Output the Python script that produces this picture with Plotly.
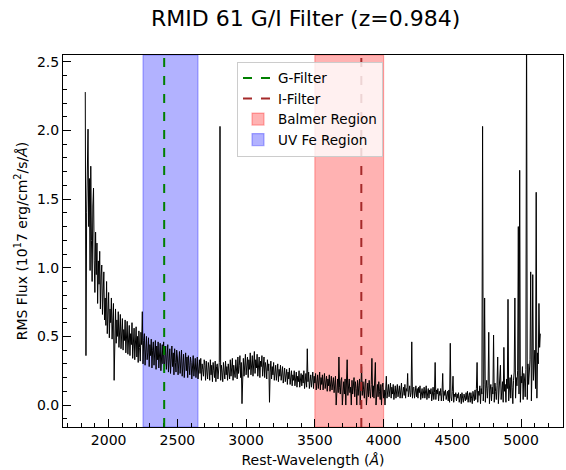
import plotly.graph_objects as go

# ---- data ----
WAVE_START = 1830   # Angstrom
WAVE_STEP = 5       # Angstrom
FLUX_ROWS = [
    [2.28, 0.36, 1.40, 1.95, 2.01, 1.30, 1.65, 0.98, 1.74, 1.20, 0.90, 1.45, 1.58, 1.05, 0.82, 1.26, 0.95, 1.18, 0.74, 1.05],
    [0.88, 1.12, 0.70, 0.94, 1.02, 0.66, 0.85, 0.97, 0.62, 0.78, 0.58, 0.90, 0.52, 0.75, 0.82, 0.49, 0.70, 0.60, 0.78, 0.48],
    [0.66, 0.74, 0.18, 0.55, 0.70, 0.45, 0.62, 0.50, 0.68, 0.42, 0.58, 0.66, 0.41, 0.52, 0.63, 0.40, 0.55, 0.47, 0.62, 0.38],
    [0.50, 0.61, 0.37, 0.46, 0.58, 0.36, 0.52, 0.44, 0.60, 0.34, 0.48, 0.56, 0.33, 0.45, 0.57, 0.35, 0.50, 0.31, 0.54, 0.42],
    [0.32, 0.53, 0.44, 0.68, 0.30, 0.47, 0.52, 0.29, 0.42, 0.50, 0.33, 0.38, 0.49, 0.28, 0.44, 0.36, 0.48, 0.27, 0.40, 0.46],
    [0.29, 0.37, 0.47, 0.26, 0.43, 0.33, 0.46, 0.27, 0.39, 0.45, 0.25, 0.35, 0.44, 0.30, 0.46, 0.25, 0.38, 0.43, 0.26, 0.34],
    [0.44, 0.24, 0.37, 0.41, 0.23, 0.33, 0.43, 0.28, 0.38, 0.22, 0.41, 0.31, 0.24, 0.40, 0.35, 0.22, 0.37, 0.39, 0.23, 0.32],
    [0.40, 0.21, 0.34, 0.37, 0.20, 0.30, 0.38, 0.25, 0.35, 0.20, 0.36, 0.29, 0.22, 0.35, 0.31, 0.19, 0.33, 0.36, 0.21, 0.28],
    [0.34, 0.20, 0.31, 0.35, 0.19, 0.27, 0.33, 0.23, 0.34, 0.18, 0.30, 0.26, 0.21, 0.33, 0.29, 0.18, 0.32, 0.24, 0.19, 0.31],
    [0.27, 0.18, 0.33, 0.22, 0.29, 0.17, 0.31, 0.25, 0.20, 0.32, 0.17, 0.28, 0.30, 0.19, 0.26, 0.31, 2.03, 0.18, 0.29, 0.24],
    [0.17, 0.31, 0.26, 0.19, 0.32, 0.22, 0.28, 0.18, 0.30, 0.25, 0.19, 0.33, 0.21, 0.27, 0.34, 0.18, 0.29, 0.24, 0.20, 0.33],
    [0.26, 0.19, 0.35, 0.23, 0.29, 0.36, 0.20, 0.31, 0.01, 0.27, 0.34, 0.21, 0.30, 0.37, 0.22, 0.28, 0.35, 0.20, 0.33, 0.26],
    [0.38, 0.22, 0.31, 0.36, 0.21, 0.29, 0.39, 0.23, 0.33, 0.27, 0.37, 0.21, 0.30, 0.35, 0.20, 0.32, 0.28, 0.36, 0.21, 0.29],
    [0.35, 0.20, 0.31, 0.27, 0.19, 0.33, 0.25, 0.30, 0.02, 0.24, 0.32, 0.19, 0.28, 0.22, 0.31, 0.18, 0.26, 0.29, 0.18, 0.24],
    [0.30, 0.17, 0.26, 0.21, 0.29, 0.18, 0.25, 0.28, 0.16, 0.23, 0.27, 0.17, 0.22, 0.26, 0.15, 0.24, 0.19, 0.27, 0.15, 0.21],
    [0.25, 0.14, 0.22, 0.18, 0.25, 0.14, 0.20, 0.24, 0.13, 0.21, 0.17, 0.25, 0.13, 0.19, 0.23, 0.14, 0.22, 0.16, 0.25, 0.12],
    [0.20, 0.23, 0.13, 0.41, 0.17, 0.24, 0.12, 0.20, 0.22, 0.13, 0.18, 0.24, 0.12, 0.21, 0.16, 0.23, 0.11, 0.19, 0.22, 0.12],
    [0.17, 0.24, 0.11, 0.20, 0.15, 0.22, 0.11, 0.18, 0.23, 0.12, 0.16, 0.21, 0.10, 0.19, 0.14, 0.22, 0.10, 0.17, 0.21, 0.11],
    [0.15, 0.20, 0.09, 0.18, 0.21, 0.00, 0.14, 0.19, 0.09, 0.35, 0.13, 0.08, 0.18, 0.20, 0.00, 0.12, 0.17, 0.08, 0.19, 0.00],
    [0.14, 0.33, 0.07, 0.16, 0.19, 0.09, 0.13, 0.00, 0.18, 0.08, 0.15, 0.20, 0.06, 0.17, 0.12, 0.00, 0.18, 0.07, 0.14, 0.19],
    [0.00, 0.13, 0.28, 0.07, 0.17, 0.11, 0.05, 0.16, 0.19, 0.00, 0.12, 0.16, 0.06, 0.18, 0.10, 0.05, 0.15, 0.34, 0.06, 0.14],
    [0.05, 0.17, 0.31, 0.00, 0.12, 0.15, 0.06, 0.17, 0.10, 0.04, 0.15, 0.00, 0.13, 0.16, 0.05, 0.11, 0.00, 0.14, 0.21, 0.05],
    [0.12, 0.15, 0.06, 0.10, 0.16, 0.05, 0.13, 0.08, 0.15, 0.04, 0.11, 0.14, 0.05, 0.09, 0.15, 0.06, 0.12, 0.14, 0.05, 0.10],
    [0.16, 0.05, 0.11, 0.13, 0.07, 0.15, 0.05, 0.12, 0.10, 0.23, 0.06, 0.13, 0.14, 0.06, 0.09, 0.46, 0.05, 0.12, 0.13, 0.05],
    [0.10, 0.14, 0.06, 0.12, 0.05, 0.13, 0.09, 0.14, 0.04, 0.11, 0.12, 0.05, 0.08, 0.13, 0.05, 0.10, 0.14, 0.04, 0.09, 0.12],
    [0.05, 0.11, 0.08, 0.12, 0.03, 0.10, 0.13, 0.04, 0.09, 0.31, 0.04, 0.11, 0.08, 0.12, 0.03, 0.10, 0.07, 0.12, 0.03, 0.09],
    [0.23, 0.03, 0.10, 0.07, 0.11, 0.04, 0.08, 0.10, 0.03, 0.11, 0.02, 0.45, 0.06, 0.03, 0.10, 0.21, 0.02, 0.08, 0.06, 0.09],
    [0.03, 0.08, 0.05, 0.09, 0.02, 0.07, 0.08, 0.01, 0.09, 0.05, 0.02, 0.08, 0.06, 0.03, 0.09, 0.04, 0.10, 0.02, 0.07, 0.09],
    [0.02, 0.09, 0.05, 0.01, 0.10, 0.06, 0.03, 0.11, 0.04, 0.12, 0.31, 0.02, 0.10, 0.07, 0.14, 0.01, 0.12, 0.08, 2.03, 0.03],
    [0.15, 0.78, 0.02, 0.12, 0.18, 0.05, 0.14, 0.53, 0.01, 0.11, 0.15, 0.03, 0.13, 0.08, 0.51, 0.02, 0.16, 0.10, 0.04, 0.14],
    [0.35, 0.01, 0.12, 0.16, 0.29, 0.04, 0.13, 0.17, 0.02, 0.42, 0.10, 0.15, 0.02, 0.19, 0.12, 0.77, 0.03, 0.16, 0.20, 0.05],
    [0.22, 0.13, 0.01, 0.18, 0.24, 0.78, 0.05, 0.20, 0.14, 0.25, 1.30, 0.08, 1.71, 0.02, 0.21, 0.16, 0.28, 0.04, 0.23, 0.19],
    [0.06, 0.26, 2.90, 0.04, 0.30, 0.15, 0.22, 0.33, 0.97, 0.03, 0.27, 0.95, 0.18, 0.35, 0.40, 0.12, 1.55, 0.05, 0.38, 0.30],
    [0.74, 0.42, 0.52],
]
FLUX = [v for row in FLUX_ROWS for v in row]
WAVE = [WAVE_START + WAVE_STEP * i for i in range(len(FLUX))]

G_FILTER = 2404      # rest-frame wavelength of G filter
I_FILTER = 3838      # rest-frame wavelength of I filter
BALMER_REGION = (3500, 4000)
UVFE_REGION = (2250, 2650)

X_RANGE = [1668, 5305]
Y_RANGE = [-0.16, 2.55]
X_TICKS = [2000, 2500, 3000, 3500, 4000, 4500, 5000]

FONT = "DejaVu Sans"

fig = go.Figure()

fig.add_trace(go.Scatter(
    x=WAVE, y=FLUX, mode="lines",
    line=dict(color="black", width=1.0),
    showlegend=False, hoverinfo="skip",
))

fig.add_vrect(x0=UVFE_REGION[0], x1=UVFE_REGION[1],
              fillcolor="rgba(0,0,255,0.3)",
              line=dict(color="rgba(0,0,255,0.3)", width=1.2),
              layer="below", showlegend=True, name="UV Fe Region",
              legendrank=4)
fig.add_vrect(x0=BALMER_REGION[0], x1=BALMER_REGION[1],
              fillcolor="rgba(255,0,0,0.3)",
              line=dict(color="rgba(255,0,0,0.3)", width=1.2),
              layer="below", showlegend=True, name="Balmer Region",
              legendrank=3)
fig.add_vline(x=G_FILTER, line=dict(color="green", width=2, dash="dash"),
              showlegend=True, name="G-Filter", legendrank=1)
fig.add_vline(x=I_FILTER, line=dict(color="#a52a2a", width=2, dash="dash"),
              showlegend=True, name="I-Filter", legendrank=2)

fig.update_layout(
    width=566, height=470,
    margin=dict(l=63, r=3, t=55, b=43),
    paper_bgcolor="white", plot_bgcolor="white",
    font=dict(family=FONT, size=14, color="black"),
    title=dict(text="RMID 61 G/I Filter (z=0.984)", x=0.54, xanchor="center",
               y=0.962, yanchor="middle", font=dict(size=22, family=FONT)),
    legend=dict(x=0.348, y=0.982, xanchor="left", yanchor="top",
                bgcolor="rgba(255,255,255,0.8)", bordercolor="#cccccc",
                borderwidth=1, font=dict(size=13.5, family=FONT)),
)

fig.update_xaxes(
    range=X_RANGE, showgrid=False, zeroline=False,
    showline=True, linecolor="black", linewidth=1, mirror=True,
    ticks="inside", ticklen=8, tickwidth=1, tickcolor="black",
    tickvals=X_TICKS,
    minor=dict(ticks="inside", ticklen=4, dtick=100, tick0=0,
               tickcolor="black", showgrid=False),
    title=dict(text="Rest-Wavelength (<i>Å</i>)", standoff=8,
               font=dict(size=14)),
)
fig.update_yaxes(
    range=Y_RANGE, showgrid=False, zeroline=False,
    showline=True, linecolor="black", linewidth=1, mirror=True,
    ticks="inside", ticklen=8, tickwidth=1, tickcolor="black",
    dtick=0.5, tick0=0, tickformat=".1f",
    minor=dict(ticks="inside", ticklen=4, dtick=0.1, tick0=0,
               tickcolor="black", showgrid=False),
    title=dict(text="RMS Flux (10<sup>1</sup>7 erg/cm<sup>2</sup>/s/<i>Å</i>)",
               standoff=6, font=dict(size=14)),
)

fig.write_html("out.html")
